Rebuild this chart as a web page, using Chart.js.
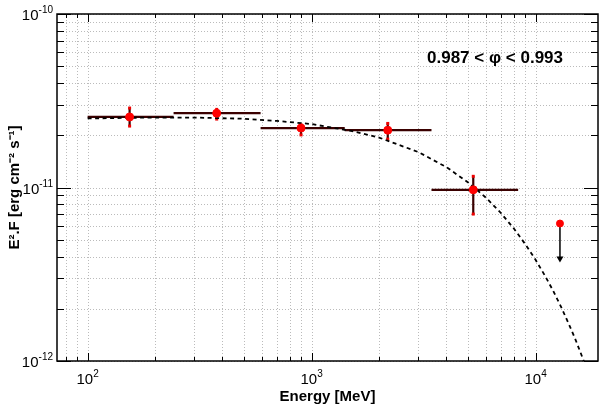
<!DOCTYPE html>
<html><head><meta charset="utf-8">
<script src="https://cdn.jsdelivr.net/npm/chart.js@4"></script>
<style>html,body{margin:0;padding:0;background:#fff}#c{display:block}</style>
</head><body><div style="width:603px;height:410px"><canvas id="c" width="603" height="410"></canvas></div>
<script>
const energy = [154, 377, 897, 2188, 5270];
const flux = [2.55e-11, 2.68e-11, 2.2e-11, 2.14e-11, 9.7e-12];
const eLow = [100, 242, 592, 1406, 3430];
const eHigh = [242, 592, 1406, 3430, 8360];
const fLow = [2.26e-11, 2.48e-11, 2.01e-11, 1.9e-11, 7.03e-12];
const fHigh = [2.87e-11, 2.82e-11, 2.3e-11, 2.34e-11, 1.16e-11];
const ulEnergy = [12850];
const ulFlux = [6.2e-12];
const ulArrowTo = [3.7e-12];
const modelE = [100,150,200,300,500,700,1000,1500,2000,3000,4000,5000,6000,7000,8000,9000,10000,11000,12000,13000,14000,15000,16000,16500];
const modelF = [2.50,2.52,2.53,2.53,2.49,2.42,2.32,2.12,1.94,1.60,1.31,1.07,0.875,0.713,0.580,0.471,0.383,0.311,0.253,0.205,0.166,0.135,0.109,0.098].map(v=>v*1e-11);
const xTickLabels = [{v:100,e:'2'},{v:1000,e:'3'},{v:10000,e:'4'}];
const yTickLabels = [{v:1e-10,e:'-10'},{v:1e-11,e:'-11'},{v:1e-12,e:'-12'}];

function logTicks(min,max){const t=[];for(let d=Math.floor(Math.log10(min));d<=Math.ceil(Math.log10(max));d++){for(let m=1;m<10;m++){const v=m*Math.pow(10,d);if(v>=min*0.999&&v<=max*1.001)t.push({value:v});}}return t;}
const FONT='"Liberation Sans", Arial, sans-serif';
function sup(ctx,base,exp,x,y,align){ctx.font='15px '+FONT;const bw=ctx.measureText(base).width;ctx.font='10px '+FONT;const ew=ctx.measureText(exp).width;let x0=align==='right'?x-bw-ew:x-(bw+ew)/2;ctx.textAlign='left';ctx.textBaseline='alphabetic';ctx.font='15px '+FONT;ctx.fillText(base,x0,y);ctx.font='10px '+FONT;ctx.fillText(exp,x0+bw,y-7);}

const deco={id:'deco',
 beforeDatasetsDraw(ch){const {ctx,scales:{x,y},chartArea:a}=ch;ctx.save();
  ctx.strokeStyle='#bbb';ctx.lineWidth=1;ctx.setLineDash([1,2]);
  x.ticks.forEach(t=>{const p=Math.round(x.getPixelForValue(t.value))+0.5;ctx.beginPath();ctx.moveTo(p,a.top);ctx.lineTo(p,a.bottom);ctx.stroke();});
  y.ticks.forEach(t=>{const p=Math.round(y.getPixelForValue(t.value))+0.5;ctx.beginPath();ctx.moveTo(a.left,p);ctx.lineTo(a.right,p);ctx.stroke();});
  ctx.setLineDash([]);ctx.strokeStyle='#000';
  x.ticks.forEach(t=>{const p=Math.round(x.getPixelForValue(t.value))+0.5;const major=Math.abs(Math.log10(t.value)%1)<1e-6;const L=major?8:4;ctx.beginPath();ctx.moveTo(p,a.bottom);ctx.lineTo(p,a.bottom-L);ctx.moveTo(p,a.top);ctx.lineTo(p,a.top+L);ctx.stroke();});
  y.ticks.forEach(t=>{const p=Math.round(y.getPixelForValue(t.value))+0.5;const major=Math.abs(Math.log10(t.value)%1)<1e-6;const L=major?14:7;ctx.beginPath();ctx.moveTo(a.left,p);ctx.lineTo(a.left+L,p);ctx.moveTo(a.right,p);ctx.lineTo(a.right-L,p);ctx.stroke();});
  ctx.lineWidth=2.2;
  for(let i=0;i<energy.length;i++){const px=x.getPixelForValue(energy[i]),py=y.getPixelForValue(flux[i]);
   ctx.strokeStyle='#3a0000';ctx.beginPath();ctx.moveTo(x.getPixelForValue(eLow[i]),py);ctx.lineTo(x.getPixelForValue(eHigh[i]),py);ctx.stroke();
   ctx.beginPath();ctx.moveTo(px,y.getPixelForValue(fLow[i]));ctx.lineTo(px,y.getPixelForValue(fHigh[i]));ctx.stroke();
   ctx.fillStyle='#e00';[fLow[i],fHigh[i]].forEach(v=>ctx.fillRect(px-1.5,y.getPixelForValue(v)-1.5,3,3));}
  for(let i=0;i<ulEnergy.length;i++){const px=x.getPixelForValue(ulEnergy[i]),p1=y.getPixelForValue(ulFlux[i]),p2=y.getPixelForValue(ulArrowTo[i]);
   ctx.strokeStyle='#000';ctx.lineWidth=1.5;ctx.beginPath();ctx.moveTo(px,p1);ctx.lineTo(px,p2-4);ctx.stroke();
   ctx.fillStyle='#000';ctx.beginPath();ctx.moveTo(px-3.5,p2-6);ctx.lineTo(px+3.5,p2-6);ctx.lineTo(px,p2);ctx.closePath();ctx.fill();}
  ctx.restore();},
 afterDraw(ch){const {ctx,scales:{x,y},chartArea:a}=ch;ctx.save();ctx.strokeStyle='#000';ctx.lineWidth=1.5;ctx.strokeRect(a.left,a.top,a.right-a.left,a.bottom-a.top);
  ctx.fillStyle='#000';
  xTickLabels.forEach(t=>sup(ctx,'10',t.e,x.getPixelForValue(t.v),384,'center'));
  yTickLabels.forEach(t=>sup(ctx,'10',t.e,a.left-4,y.getPixelForValue(t.v)+6,'right'));
  ctx.font='bold 15px '+FONT;ctx.textAlign='center';ctx.textBaseline='alphabetic';ctx.fillText('Energy [MeV]',(a.left+a.right)/2,401);
  ctx.font='bold 17px '+FONT;ctx.fillText('0.987 < \u03c6 < 0.993',495,63);
  ctx.translate(19,(a.top+a.bottom)/2);ctx.rotate(-Math.PI/2);ctx.font='bold 15px '+FONT;ctx.fillText('E\u00b2.F [erg cm\u207b\u00b2 s\u207b\u00b9]',0,0);
  ctx.restore();}};

new Chart(document.getElementById('c'),{type:'scatter',
 data:{datasets:[
  {type:'line',data:modelE.map((e,i)=>({x:e,y:modelF[i]})),borderColor:'#000',borderWidth:1.8,borderDash:[4,3.5],pointRadius:0,fill:false,tension:0,order:2},
  {data:energy.map((e,i)=>({x:e,y:flux[i]})),backgroundColor:'#f00',borderColor:'#f00',pointRadius:4,order:1},
  {data:ulEnergy.map((e,i)=>({x:e,y:ulFlux[i]})),backgroundColor:'#f00',borderColor:'#f00',pointRadius:3.5,order:1}
 ]},
 options:{responsive:false,animation:false,events:[],clip:true,
  layout:{padding:{top:14,right:3,left:0,bottom:0}},
  plugins:{legend:{display:false},tooltip:{enabled:false}},
  scales:{
   x:{type:'logarithmic',min:73,max:19000,afterBuildTicks:s=>{s.ticks=logTicks(73,19000);},ticks:{display:false},grid:{display:false},border:{display:false},afterFit:s=>{s.height=49;}},
   y:{type:'logarithmic',min:1e-12,max:1e-10,afterBuildTicks:s=>{s.ticks=logTicks(1e-12,1e-10);},ticks:{display:false},grid:{display:false},border:{display:false},afterFit:s=>{s.width=57;}}
  }},
 plugins:[deco]});
</script></body></html>
